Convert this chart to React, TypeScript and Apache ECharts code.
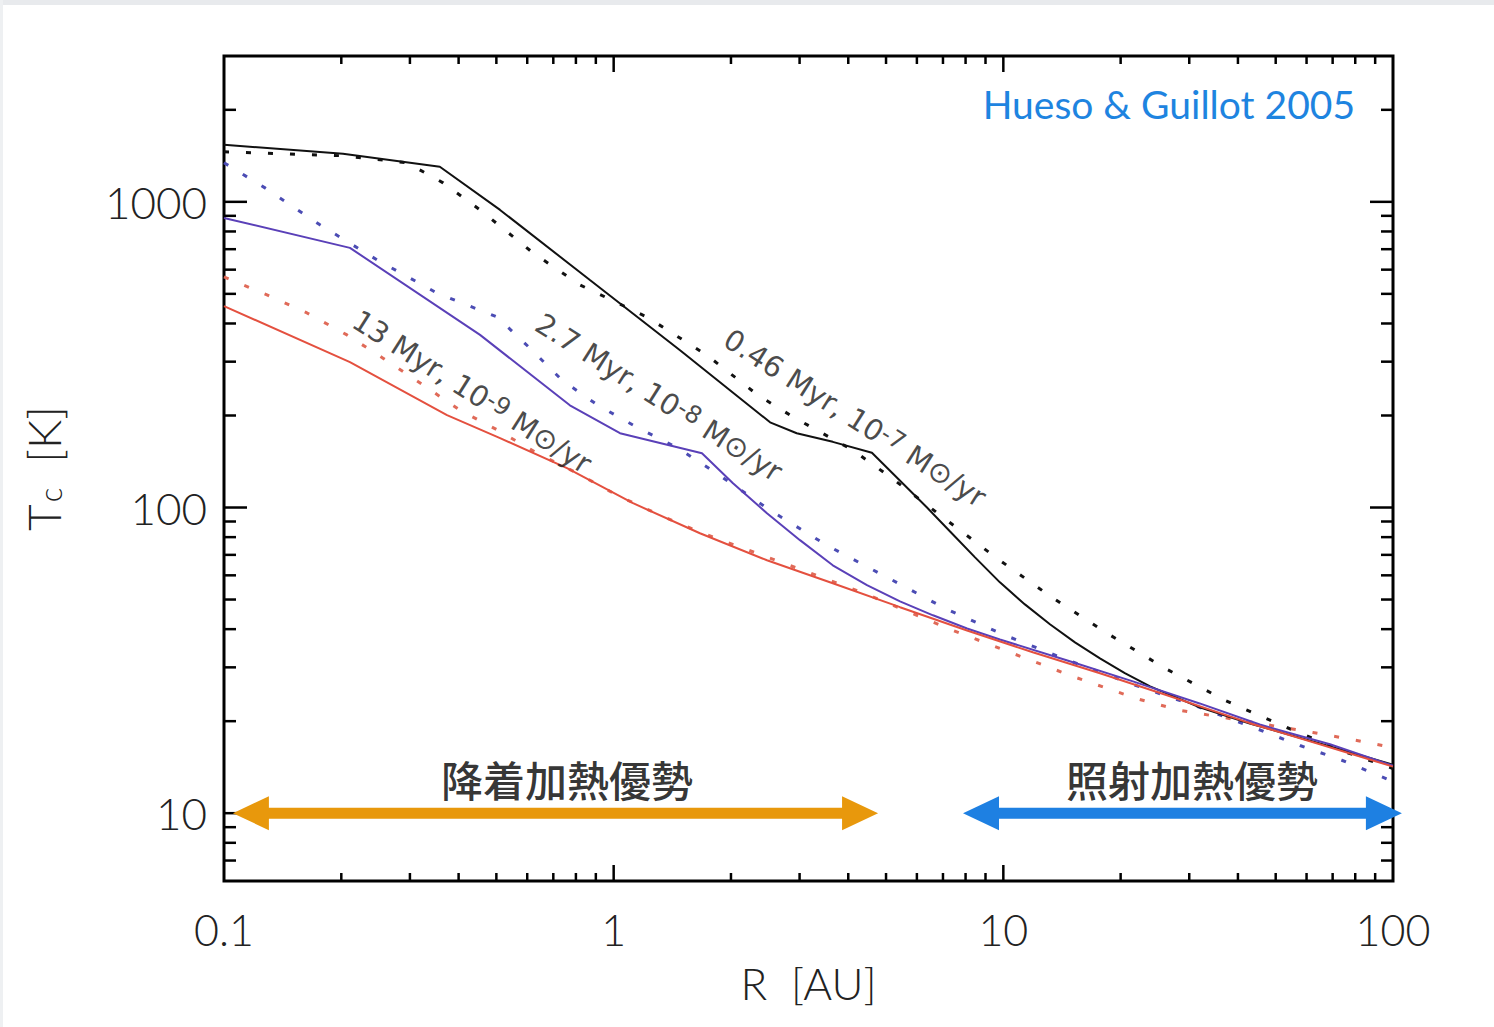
import React, { useEffect, useRef } from "react";
import * as echarts from "echarts";

// ---- data (R [AU], Tc [K]) ----
const blackSolid: [number, number][] = [
  [0.1, 1537], [0.202, 1436], [0.358, 1302], [0.511, 941], [0.869, 555], [1.48, 327],
  [2.52, 190], [2.95, 175], [3.65, 164], [4.6, 151], [6.37, 100], [7.29, 83.6],
  [8.46, 68.7], [9.8, 56.9], [11.36, 48.2], [13.17, 41.5], [15.27, 36.2], [17.7, 32.1],
  [20.5, 28.7], [23.8, 26.0], [31.9, 22.2], [42.9, 19.66], [64.9, 16.9], [100, 14.4],
];
const blackDotted: [number, number][] = [
  [0.1, 1458], [0.202, 1415], [0.295, 1342], [0.365, 1154], [0.454, 941], [0.621, 681],
  [0.819, 535], [1.217, 420], [1.735, 315], [2.346, 233], [2.884, 198], [4.11, 154],
  [5.12, 126], [7.0, 92.9], [9.63, 68.2], [13.33, 50.8], [18.45, 38.8], [26.0, 29.8],
  [37.0, 23.4], [53.4, 19.07], [76.1, 15.8], [100, 14.0],
];
const purpleSolid: [number, number][] = [
  [0.1, 886], [0.2105, 707], [0.454, 367], [0.772, 216], [1.038, 175], [1.685, 150.6],
  [2.024, 120.1], [2.474, 95.8], [3.007, 78.2], [3.65, 64.7], [4.467, 55.7], [5.43, 49.3],
  [6.6, 44.4], [8.07, 40.2], [9.8, 37.0], [14.6, 31.6], [21.5, 27.0], [31.9, 22.86],
  [45.5, 19.5], [68.9, 16.8], [100, 14.3],
];
const purpleDotted: [number, number][] = [
  [0.1, 1342], [0.1274, 1111], [0.1763, 841], [0.247, 646], [0.352, 503], [0.502, 420],
  [0.61, 332], [0.737, 261], [0.911, 216], [1.148, 183], [1.462, 156.4], [1.819, 130.5],
  [2.518, 98], [3.526, 75.2], [5.03, 59.1], [7.08, 46.8], [10.1, 38.2], [14.7, 31.6],
  [21.1, 26.6], [31.9, 22.2], [44.7, 18.9], [57.7, 16.65], [73.9, 14.9], [100, 12.7],
];
const redSolid: [number, number][] = [
  [0.1, 456], [0.2105, 299], [0.3735, 200.6], [0.511, 168.7], [0.759, 134.5], [1.121, 103.3],
  [1.665, 82.4], [2.474, 67.2], [3.65, 56.5], [5.43, 47.2], [8.07, 39.6], [11.9, 33.6],
  [17.7, 28.7], [26.3, 24.3], [42.9, 19.7], [64.9, 16.8], [100, 14.2],
];
const redDotted: [number, number][] = [
  [0.1, 568], [0.1289, 496], [0.1633, 433], [0.2068, 367], [0.2559, 308], [0.324, 252],
  [0.4034, 208], [0.5046, 179], [0.6357, 150.6], [0.805, 129.6], [1.02, 109.7], [1.315, 94.4],
  [1.665, 83.0], [3.06, 62.3], [4.467, 52.0], [7.21, 40.2], [10.4, 33.6], [15.1, 28.0],
  [22.0, 23.7], [28.4, 21.7], [42.9, 19.9], [62.3, 18.37], [80.8, 17.3], [100, 16.4],
];

// axis ticks
const xMinorTicks = [0.2, 0.3, 0.4, 0.5, 0.6, 0.7, 0.8, 0.9, 2, 3, 4, 5, 6, 7, 8, 9, 20, 30, 40, 50, 60, 70, 80, 90];
const xMajorTicks = [1, 10];
const yMinorTicks = [7, 8, 9, 20, 30, 40, 50, 60, 70, 80, 90, 200, 300, 400, 500, 600, 700, 800, 900, 2000];
const yMajorTicks = [10, 100, 1000];

// curve labels: [R, T, text]
const curveLabels: [number, number, string][] = [
  [0.433, 239, "13 Myr, 10{sup|-9} M⊙/yr"],
  [1.307, 229, "2.7 Myr, 10{sup|-8} M⊙/yr"],
  [4.16, 196, "0.46 Myr, 10{sup|-7} M⊙/yr"],
];
// heating regime arrows: [R start, R end, T]
const regimeArrows: [number, number, number][] = [
  [0.1054, 4.77, 10],
  [7.88, 105.4, 10],
];
const regimeLabels: [number, number, string][] = [
  [0.759, 13, "降着加熱優勢"],
  [30.5, 13, "照射加熱優勢"],
];
const arrowColors = ["#e8980c", "#1e80e2"];

const BLACK = "#111111";
const PURPLE = "#5a40b8";
const PURPLE_DOT = "#4b4cb4";
const RED = "#e4503f";
const RED_DOT = "#e06a58";

const labelFont = "Lato, 'Open Sans', sans-serif";

function fmt(v: number) {
  if (v >= 1) return String(Math.round(v));
  return String(+v.toPrecision(3));
}

function lineSeries(name: string, data: [number, number][], color: string, dotted: boolean) {
  return {
    name,
    type: "line",
    data,
    symbol: "none",
    showSymbol: false,
    silent: true,
    z: dotted ? 3 : 4,
    lineStyle: dotted
      ? { color, width: 3, type: [5, 17], cap: "butt" }
      : { color, width: 2 },
  };
}

export default function App() {
  const ref = useRef<HTMLDivElement>(null);
  useEffect(() => {
    if (!ref.current) return;
    const chart = echarts.init(ref.current, null, { renderer: "svg" });

    const option: any = {
      animation: false,
      backgroundColor: "#ffffff",
      grid: {
        left: 224,
        right: 101,
        top: 56,
        bottom: 146,
        show: true,
        borderColor: "#000",
        borderWidth: 3,
        backgroundColor: "transparent",
      },
      xAxis: {
        type: "log",
        logBase: 10,
        min: 0.1,
        max: 100,
        axisLine: { show: false },
        axisTick: { show: false },
        splitLine: { show: false },
        axisLabel: {
          fontFamily: labelFont,
          fontWeight: 300,
          fontSize: 43,
          color: "#222",
          margin: 27,
          formatter: fmt,
        },
        name: "R  [AU]",
        nameLocation: "middle",
        nameGap: 80,
        nameTextStyle: { fontFamily: labelFont, fontWeight: 300, fontSize: 44, color: "#222" },
      },
      yAxis: {
        type: "log",
        logBase: 10,
        min: 6,
        max: 3000,
        axisLine: { show: false },
        axisTick: { show: false },
        splitLine: { show: false },
        axisLabel: {
          fontFamily: labelFont,
          fontWeight: 300,
          fontSize: 44,
          color: "#222",
          margin: 17,
          showMinLabel: false,
          showMaxLabel: false,
          formatter: fmt,
        },
        name: "{t|T}{s|c}{t|  [K]}",
        nameLocation: "middle",
        nameRotate: 90,
        nameGap: 158,
        nameTextStyle: {
          fontFamily: labelFont,
          color: "#222",
          rich: {
            t: { fontFamily: labelFont, fontWeight: 300, fontSize: 46, color: "#222" },
            s: { fontFamily: labelFont, fontWeight: 300, fontSize: 31, color: "#222", padding: [14, 0, 0, 2] },
          },
        },
      },
      graphic: [
        { type: "rect", shape: { x: 0, y: 0, width: 1494, height: 5 }, style: { fill: "#e8eaed" }, silent: true },
        { type: "rect", shape: { x: 0, y: 0, width: 3, height: 1027 }, style: { fill: "#eef0f2" }, silent: true },
        {
          type: "text",
          x: 1355,
          y: 104,
          style: {
            text: "Hueso & Guillot 2005",
            fill: "#1e84e0",
            fontFamily: labelFont,
            fontSize: 39,
            align: "right",
            verticalAlign: "middle",
          },
          silent: true,
        },
      ],
      series: [
        lineSeries("0.46 Myr (model)", blackSolid, BLACK, false),
        lineSeries("0.46 Myr (fit)", blackDotted, BLACK, true),
        lineSeries("2.7 Myr (model)", purpleSolid, PURPLE, false),
        lineSeries("2.7 Myr (fit)", purpleDotted, PURPLE_DOT, true),
        lineSeries("13 Myr (model)", redSolid, RED, false),
        lineSeries("13 Myr (fit)", redDotted, RED_DOT, true),
        {
          name: "xTicks",
          type: "custom",
          silent: true,
          z: 6,
          data: [
            ...xMinorTicks.map((v) => [v, 10, 0]),
            ...xMajorTicks.map((v) => [v, 10, 1]),
          ],
          encode: { x: 0, y: 1 },
          renderItem: (params: any, api: any) => {
            const cs = params.coordSys;
            const x = api.coord([api.value(0), 10])[0];
            const len = api.value(2) ? 16 : 8;
            const st = { stroke: "#000", lineWidth: 2.5 };
            return {
              type: "group",
              children: [
                { type: "line", shape: { x1: x, y1: cs.y + cs.height, x2: x, y2: cs.y + cs.height - len }, style: st },
                { type: "line", shape: { x1: x, y1: cs.y, x2: x, y2: cs.y + len }, style: st },
              ],
            };
          },
        },
        {
          name: "yTicks",
          type: "custom",
          silent: true,
          z: 6,
          data: [
            ...yMinorTicks.map((v) => [1, v, 0]),
            ...yMajorTicks.map((v) => [1, v, 1]),
          ],
          encode: { x: 0, y: 1 },
          renderItem: (params: any, api: any) => {
            const cs = params.coordSys;
            const y = api.coord([1, api.value(1)])[1];
            const len = api.value(2) ? 23 : 12;
            const st = { stroke: "#000", lineWidth: 2.5 };
            return {
              type: "group",
              children: [
                { type: "line", shape: { x1: cs.x, y1: y, x2: cs.x + len, y2: y }, style: st },
                { type: "line", shape: { x1: cs.x + cs.width, y1: y, x2: cs.x + cs.width - len, y2: y }, style: st },
              ],
            };
          },
        },
        {
          name: "regimeArrows",
          type: "custom",
          silent: true,
          z: 7,
          clip: false,
          data: regimeArrows.map((a, i) => [a[0], a[1], a[2], i]),
          encode: { x: [0, 1], y: 2 },
          renderItem: (params: any, api: any) => {
            const p1 = api.coord([api.value(0), api.value(2)]);
            const p2 = api.coord([api.value(1), api.value(2)]);
            const y = p1[1];
            const hl = 36, hh = 17, sw = 5.5;
            const a = p1[0], b = p2[0];
            return {
              type: "polygon",
              shape: {
                points: [
                  [a, y], [a + hl, y - hh], [a + hl, y - sw], [b - hl, y - sw], [b - hl, y - hh],
                  [b, y], [b - hl, y + hh], [b - hl, y + sw], [a + hl, y + sw], [a + hl, y + hh],
                ],
              },
              style: { fill: arrowColors[api.value(3)] },
            };
          },
        },
        {
          name: "regimeLabels",
          type: "scatter",
          silent: true,
          symbolSize: 0,
          z: 8,
          data: regimeLabels.map((l) => ({ value: [l[0], l[1]], name: l[2] })),
          label: {
            show: true,
            position: "inside",
            formatter: "{b}",
            fontFamily: "'Noto Sans CJK JP', 'Noto Sans CJK SC', sans-serif",
            fontWeight: 500,
            fontSize: 42,
            color: "#000",
          },
        },
        {
          name: "curveLabels",
          type: "scatter",
          silent: true,
          symbolSize: 0,
          z: 8,
          data: curveLabels.map((l) => ({ value: [l[0], l[1]], name: l[2] })),
          label: {
            show: true,
            position: "inside",
            rotate: -32.5,
            formatter: (p: any) => p.name,
            fontFamily: "'DejaVu Sans', sans-serif",
            fontSize: 29,
            color: "#1a1a1a",
            rich: {
              sup: { fontFamily: "'DejaVu Sans', sans-serif", fontSize: 24, color: "#1a1a1a", padding: [0, 0, 8, 0] },
            },
          },
        },
      ],
    };

    chart.setOption(option);
    return () => chart.dispose();
  }, []);

  return (
    <div
      ref={ref}
      style={{ position: "absolute", left: 0, top: 0, width: 1494, height: 1027, background: "#fff" }}
    />
  );
}
